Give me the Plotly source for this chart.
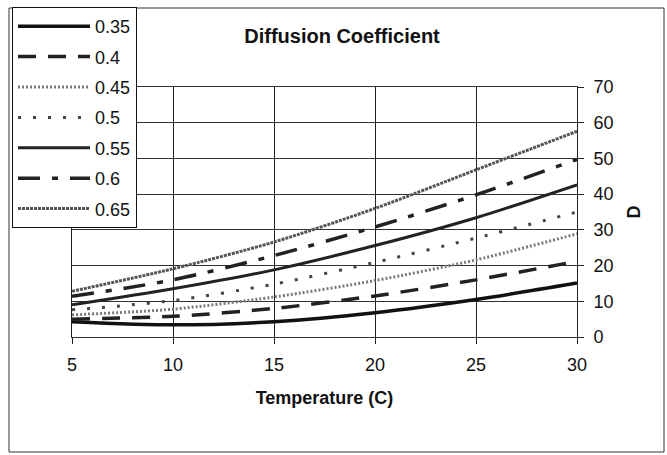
import plotly.graph_objects as go

temperature = [5, 10, 15, 20, 25, 30]
series_names = ["0.35", "0.4", "0.45", "0.5", "0.55", "0.6", "0.65"]
d_035 = [4.3, 3.4, 4.3, 6.8, 10.5, 15.1]
d_040 = [5.0, 5.8, 8.0, 11.5, 16.0, 21.2]
d_045 = [6.2, 7.8, 11.2, 15.8, 21.6, 28.9]
d_050 = [7.6, 10.2, 14.8, 20.9, 27.7, 35.0]
d_055 = [9.0, 13.5, 18.8, 25.6, 33.4, 42.6]
d_060 = [11.4, 16.0, 22.8, 30.8, 39.8, 49.7]
d_065 = [12.8, 19.1, 26.6, 36.0, 46.8, 57.6]
series_values = [d_035, d_040, d_045, d_050, d_055, d_060, d_065]

styles = [
    dict(color="#111111", width=3.5, dash="solid"),
    dict(color="#222222", width=3.5, dash="18px,12px"),
    dict(color="#7a7a7a", width=3, dash="2px,2px"),
    dict(color="#444444", width=3, dash="3px,12px"),
    dict(color="#222222", width=3, dash="solid"),
    dict(color="#222222", width=3.5, dash="22px,12px,6px,12px"),
    dict(color="#555555", width=3, dash="3px,1px"),
]

FONT = "Arial, Liberation Sans, sans-serif"

fig = go.Figure()
for name, vals, st in zip(series_names, series_values, styles):
    fig.add_trace(go.Scatter(
        x=temperature, y=vals, name=name, mode="lines",
        line=dict(shape="spline", smoothing=0.8, **st),
        legendgroup=name,
    ))

L, R, T, B = 72, 90, 87, 118
W, H = 667, 455
pw = W - L - R
ph = H - T - B

def px_x(px):
    return (px - L) / pw

def px_y(py):
    return (H - B - py) / ph

fig.update_layout(
    width=W, height=H,
    margin=dict(l=L, r=R, t=T, b=B, autoexpand=False),
    paper_bgcolor="white", plot_bgcolor="white",
    font=dict(family=FONT, color="#111111", size=18),
    title=dict(text="<b>Diffusion Coefficient</b>", x=342 / W, xanchor="center",
               xref="container", y=1 - 36 / H, yref="container", yanchor="middle",
               font=dict(size=20, family=FONT, color="#111111")),
    showlegend=True,
    legend=dict(
        x=px_x(12), y=px_y(7), xanchor="left", yanchor="top",
        bgcolor="white", bordercolor="#111111", borderwidth=1,
        font=dict(size=18, family=FONT, color="#111111"),
        itemwidth=72, tracegroupgap=4,
    ),
    xaxis=dict(
        range=[5, 30], dtick=5, tick0=5,
        showgrid=True, gridcolor="#222222", gridwidth=1,
        showline=True, linecolor="#333333", linewidth=1, mirror=True,
        ticks="outside", ticklen=6, tickcolor="#222222",
        ticklabelstandoff=5,
        tickfont=dict(size=18),
        zeroline=False,
        title=dict(text="<b>Temperature (C)</b>", font=dict(size=18, family=FONT), standoff=17),
    ),
    yaxis=dict(
        range=[0, 70], dtick=10, side="right",
        showgrid=True, gridcolor="#333333", gridwidth=1,
        showline=True, linecolor="#222222", linewidth=1, mirror=True,
        ticks="outside", ticklen=6, tickcolor="#222222",
        ticklabelstandoff=6,
        tickfont=dict(size=18),
        zeroline=False,
        title=dict(text="<b>D</b>", font=dict(size=18, family=FONT), standoff=14),
    ),
)

fig.add_shape(type="rect", xref="paper", yref="paper",
              x0=px_x(9), x1=px_x(664), y0=px_y(452), y1=px_y(8),
              line=dict(color="#333333", width=1), layer="below")

fig.write_html("out.html", config={"displayModeBar": False},
               post_script="document.body.style.margin='0';")
